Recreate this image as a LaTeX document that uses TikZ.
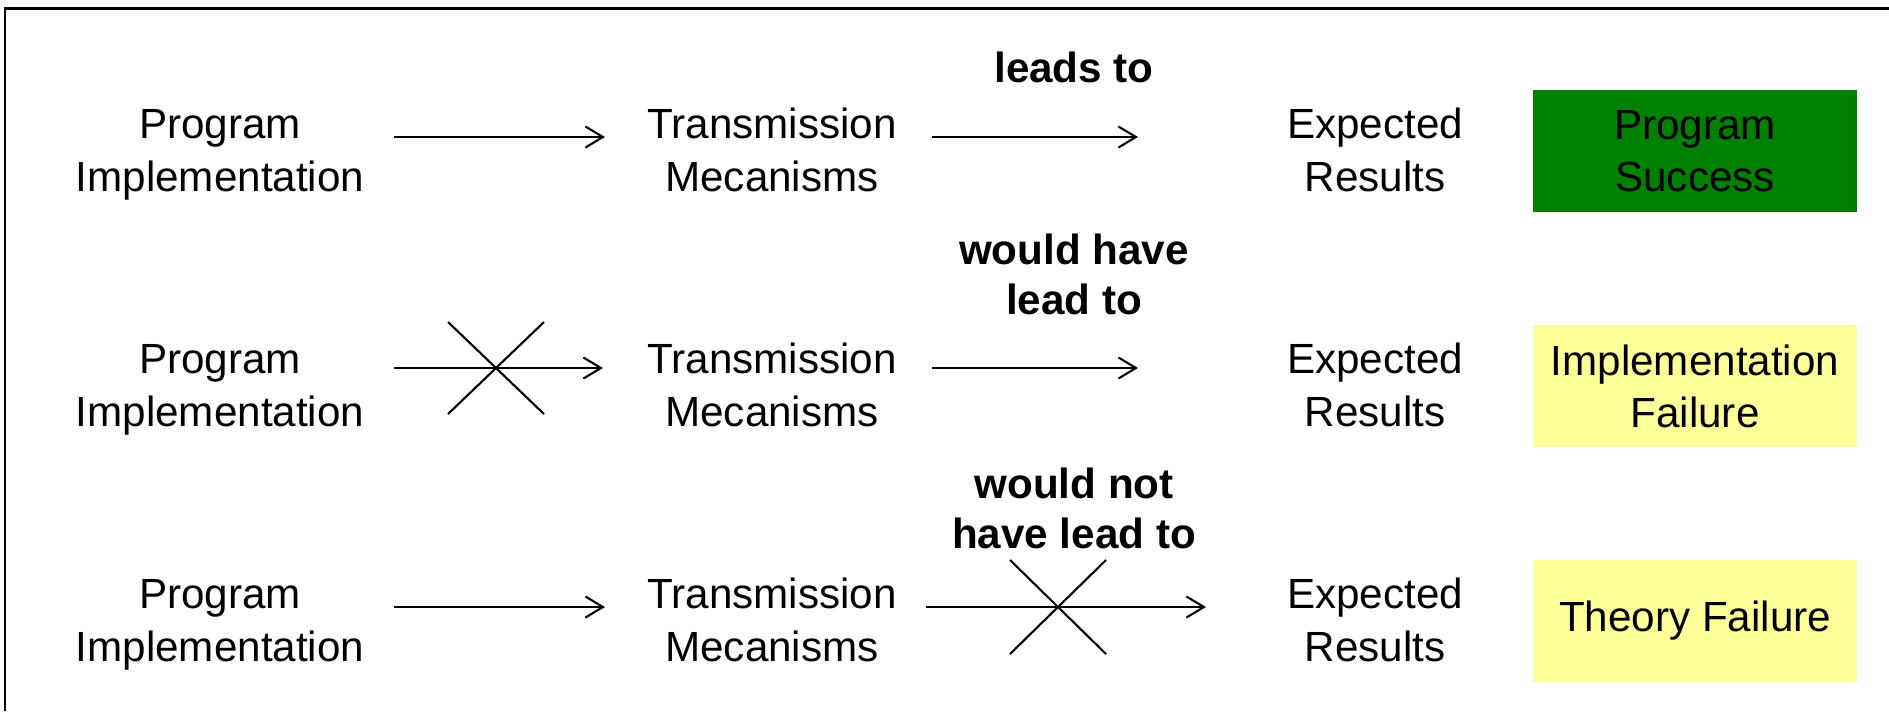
\documentclass[tikz,border=0pt]{standalone}
\usepackage{fontspec}
\setmainfont{Liberation Sans}
\usetikzlibrary{arrows.meta}
\definecolor{okgreen}{RGB}{0,128,0}
\definecolor{paleyellow}{RGB}{255,255,153}
\tikzset{txt/.style={align=center, inner sep=0pt, font=\fontsize{12}{14.8}\selectfont}}
\tikzset{verdict/.style={align=center, inner sep=0pt, minimum width=3.23cm, minimum height=1.22cm, font=\fontsize{12}{14.8}\selectfont}}
\tikzset{claim/.style={align=center, inner sep=0pt, font=\fontsize{12}{14.2}\selectfont\bfseries}}
\tikzset{flow/.style={-{Straight Barb[length=5pt,width=6pt]}, line width=0.6pt}}
\tikzset{nix/.style={line width=0.6pt}}

\begin{document}
\begin{tikzpicture}[x=0.01cm, y=-0.01cm]
				\useasboundingbox (0,0) rectangle (1889,711);
				\draw[line width=0.85pt] (5,711) -- (5,8) -- (1889,8);
				% success
				\node[txt, anchor=base] (prog1) at (220,191) {Program\\Implementation};
				\node[txt, anchor=base] (trans1) at (772,191) {Transmission\\Mecanisms};
				\node[txt, anchor=base] (exp1) at (1375,191) {Expected\\Results};
				\node[verdict, fill=okgreen] (res1) at (1695,151) {Program\\Success};
				\node[claim, anchor=base] (lbl1) at (1074,82) {leads to};
				\coordinate (a1) at (394,137);
				\coordinate (b1) at (605,137);
				\coordinate (c1) at (932,137);
				\coordinate (d1) at (1138,137);
				\draw[flow] (a1) -- (b1);
				\draw[flow] (c1) -- (d1);
				% implementation failure
				\node[txt, anchor=base] (prog2) at (220,426) {Program\\Implementation};
				\node[txt, anchor=base] (trans2) at (772,426) {Transmission\\Mecanisms};
				\node[txt, anchor=base] (exp2) at (1375,426) {Expected\\Results};
				\node[verdict, fill=paleyellow] (res2) at (1695,386) {Implementation\\Failure};
				\node[claim, anchor=base] (lbl2) at (1074,314) {would have\\lead to};
				\coordinate (a2) at (394,368);
				\coordinate (b2) at (603,368);
				\coordinate (c2) at (932,368);
				\coordinate (d2) at (1138,368);
				\coordinate (x2) at (496,368);
				\draw[flow] (a2) -- (b2);
				\draw[flow] (c2) -- (d2);
				\draw[nix] (x2) ++(-48,-46) -- ++(96,92);
				\draw[nix] (x2) ++(-48,46) -- ++(96,-92);
				% theory failure
				\node[txt, anchor=base] (prog3) at (220,661) {Program\\Implementation};
				\node[txt, anchor=base] (trans3) at (772,661) {Transmission\\Mecanisms};
				\node[txt, anchor=base] (exp3) at (1375,661) {Expected\\Results};
				\node[verdict, fill=paleyellow] (res3) at (1695,621) {Theory Failure};
				\node[claim, anchor=base] (lbl3) at (1074,548) {would not\\have lead to};
				\coordinate (a3) at (394,607);
				\coordinate (b3) at (605,607);
				\coordinate (c3) at (926,607);
				\coordinate (d3) at (1206,607);
				\coordinate (x3) at (1058,607);
				\draw[flow] (a3) -- (b3);
				\draw[flow] (c3) -- (d3);
				\draw[nix] (x3) ++(-48,-47) -- ++(96,94);
				\draw[nix] (x3) ++(-48,47) -- ++(96,-94);
\end{tikzpicture}
\end{document}
